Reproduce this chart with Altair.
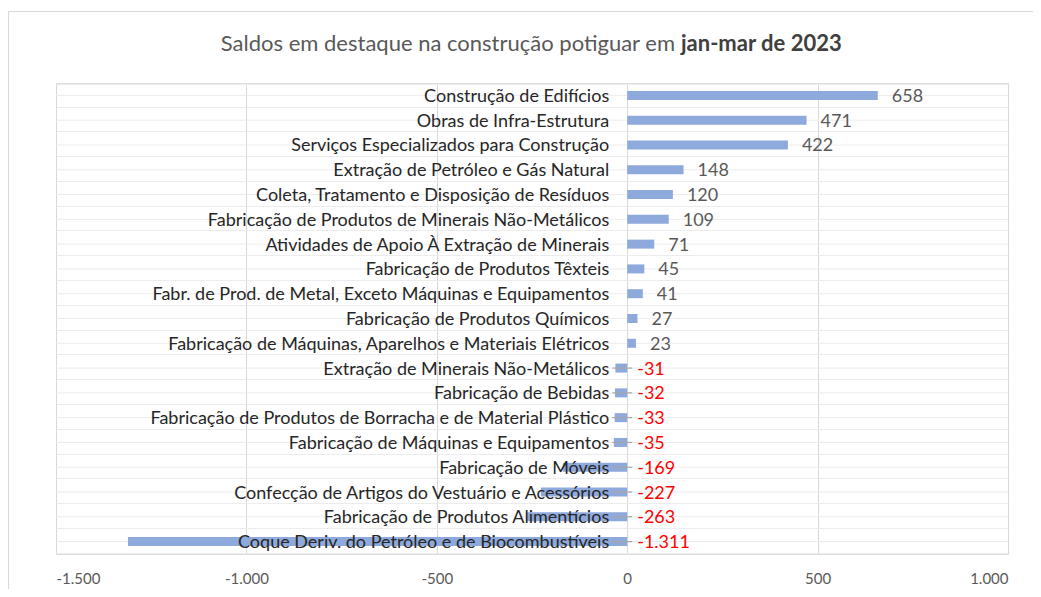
import altair as alt
import pandas as pd

categories = [
    "Construção de Edifícios",
    "Obras de Infra-Estrutura",
    "Serviços Especializados para Construção",
    "Extração de Petróleo e Gás Natural",
    "Coleta, Tratamento e Disposição de Resíduos",
    "Fabricação de Produtos de Minerais Não-Metálicos",
    "Atividades de Apoio À Extração de Minerais",
    "Fabricação de Produtos Têxteis",
    "Fabr. de Prod. de Metal, Exceto Máquinas e Equipamentos",
    "Fabricação de Produtos Químicos",
    "Fabricação de Máquinas, Aparelhos e Materiais Elétricos",
    "Extração de Minerais Não-Metálicos",
    "Fabricação de Bebidas",
    "Fabricação de Produtos de Borracha e de Material Plástico",
    "Fabricação de Máquinas e Equipamentos",
    "Fabricação de Móveis",
    "Confecção de Artigos do Vestuário e Acessórios",
    "Fabricação de Produtos Alimentícios",
    "Coque Deriv. do Petróleo e de Biocombustíveis",
]
values = [658, 471, 422, 148, 120, 109, 71, 45, 41, 27, 23,
          -31, -32, -33, -35, -169, -227, -263, -1311]
x_ticks = [-1500, -1000, -500, 0, 500, 1000]

title_plain = "Saldos em destaque na construção potiguar em"
title_bold = "jan-mar de 2023"

FONT = "Lato"
GRAY = "#595959"

df = pd.DataFrame({"cat": categories, "val": values})
df["label"] = [f"{v:,}".replace(",", ".") for v in values]
df["neg"] = df["val"] < 0

W, H = 952, 471

xscale = alt.Scale(domain=[-1500, 1000], nice=False, zero=False)
yscale = alt.Scale(domain=categories)

base = alt.Chart(df)

grid = base.mark_bar(opacity=0).encode(
    x=alt.X("val:Q", scale=xscale, title=None,
            axis=alt.Axis(values=x_ticks, grid=True, gridColor="#d9d9d9",
                          domain=False, ticks=False, labelFont=FONT,
                          labelFontSize=15, labelColor=GRAY, labelPadding=17,
                          labelExpr="replace(replace(format(datum.value, ','), ',', '.'), '\u2212', '-')")),
    y=alt.Y("cat:N", scale=yscale, sort=None, title=None,
            axis=alt.Axis(labels=False, ticks=False, domain=False, grid=True,
                          gridColor="#ececec", tickBand="extent")),
)

center_lines = base.mark_rule(color="#ececec", strokeWidth=1).encode(
    y=alt.Y("cat:N", scale=yscale, sort=None),
    x=alt.datum(-1500),
    x2=alt.datum(1000),
)

bars = base.mark_bar(color="#8EA9DB", size=9).encode(
    y=alt.Y("cat:N", scale=yscale, sort=None),
    x=alt.X("val:Q", scale=xscale),
    x2=alt.datum(0),
)

leaders = base.transform_filter("datum.neg").mark_rule(
    color="#a6a6a6", strokeWidth=1.2, xOffset=-15, x2Offset=5
).encode(
    y=alt.Y("cat:N", scale=yscale, sort=None),
    x=alt.datum(0),
    x2=alt.datum(0),
)

cat_text = base.mark_text(align="right", baseline="middle", dx=-18, dy=1.5,
                          font=FONT, fontSize=18, color="#262626").encode(
    y=alt.Y("cat:N", scale=yscale, sort=None),
    x=alt.datum(0),
    text="cat:N",
)

pos_text = base.transform_filter("!datum.neg").mark_text(
    align="left", baseline="middle", dx=14, dy=1.5, font=FONT, fontSize=18, color=GRAY
).encode(
    y=alt.Y("cat:N", scale=yscale, sort=None),
    x=alt.X("val:Q", scale=xscale),
    text="label:N",
)

neg_text = base.transform_filter("datum.neg").mark_text(
    align="left", baseline="middle", dx=10, dy=1.5, font=FONT, fontSize=18, color="#FF0000"
).encode(
    y=alt.Y("cat:N", scale=yscale, sort=None),
    x=alt.datum(0),
    text="label:N",
)

title_df = pd.DataFrame({"a": [title_plain], "b": [title_bold]})
t1 = alt.Chart(title_df).mark_text(align="right", baseline="middle", font=FONT,
                                    fontSize=22, color=GRAY).encode(
    x=alt.value(619), y=alt.value(-39), text="a:N")
t2 = alt.Chart(title_df).mark_text(align="left", baseline="middle", font=FONT,
                                    fontSize=22, fontWeight="bold", color="#404040").encode(
    x=alt.value(625), y=alt.value(-39), text="b:N")

border = alt.Chart(title_df).mark_rect(fill=None, stroke="#d9d9d9", strokeWidth=1).encode(
    x=alt.value(-47.5), x2=alt.value(990), y=alt.value(-71.5), y2=alt.value(560))

chart = alt.layer(border, grid, center_lines, bars, leaders, cat_text, pos_text,
                  neg_text, t1, t2).properties(
    width=W, height=H,
    autosize=alt.AutoSizeParams(type="none"),
    padding={"left": 48, "top": 75, "right": 25, "bottom": 35},
).configure_view(stroke="#d9d9d9").configure(background="white")

chart.save("out.html", embed_options={"renderer": "svg", "actions": False})
